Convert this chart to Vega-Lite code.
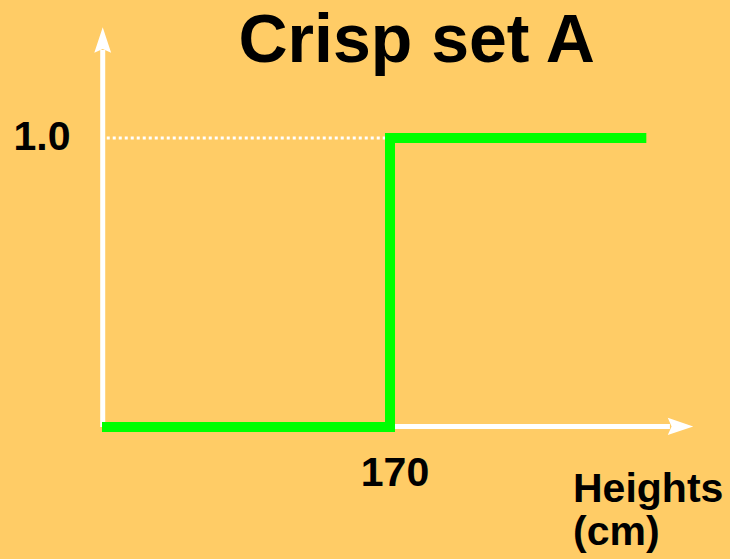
{
  "$schema": "https://vega.github.io/schema/vega-lite/v6.json",
  "width": 730,
  "height": 559,
  "autosize": {"type": "none"},
  "padding": 0,
  "background": "#FFCC66",
  "config": {"view": {"stroke": null}},
  "resolve": {"scale": {"x": "shared", "y": "shared"}},
  "encoding": {
    "x": {"type": "quantitative", "scale": {"domain": [142.9167, 193.6111], "nice": false, "zero": false}, "axis": null},
    "y": {"type": "quantitative", "scale": {"domain": [-0.45675, 1.47751], "nice": false, "zero": false}, "axis": null}
  },
  "layer": [
    {
      "data": {"values": [{"h": 150.33, "h2": 170, "m": 1}]},
      "mark": {"type": "rule", "color": "white", "strokeWidth": 3, "strokeDash": [3, 3]},
      "encoding": {"x": {"field": "h"}, "x2": {"field": "h2"}, "y": {"field": "m"}}
    },
    {
      "data": {"values": [
        {"h": 150.05, "h2": 150.05, "m": 0, "m2": 1.3045},
        {"h": 150, "h2": 189.44, "m": 0.002, "m2": 0.002}
      ]},
      "mark": {"type": "rule", "color": "white", "strokeWidth": 5},
      "encoding": {"x": {"field": "h"}, "x2": {"field": "h2"}, "y": {"field": "m"}, "y2": {"field": "m2"}}
    },
    {
      "data": {"values": [
        {"dir": "up", "h": 150.05, "m": 1.339},
        {"dir": "right", "h": 190.174, "m": 0.002}
      ]},
      "mark": {"type": "point", "filled": true, "color": "white", "opacity": 1, "size": 650},
      "encoding": {
        "x": {"field": "h"},
        "y": {"field": "m"},
        "shape": {"field": "dir", "type": "nominal", "legend": null,
          "scale": {"domain": ["up", "right"], "range": ["M0,-1L0.66,1L0,0.7L-0.66,1Z", "M1,0L-1,0.68L-0.7,0L-1,-0.68Z"]}}
      }
    },
    {
      "data": {"values": [
        {"i": 1, "h": 150, "m": 0},
        {"i": 2, "h": 170, "m": 0},
        {"i": 3, "h": 170, "m": 1},
        {"i": 4, "h": 187.8, "m": 1}
      ]},
      "mark": {"type": "line", "color": "#00FF00", "strokeWidth": 10, "strokeCap": "butt", "strokeJoin": "miter"},
      "encoding": {"x": {"field": "h"}, "y": {"field": "m"}, "order": {"field": "i", "type": "quantitative"}}
    },
    {
      "data": {"values": [{"label": "Crisp set A", "h": 171.854, "m": 1.263}]},
      "mark": {"type": "text", "font": "Liberation Sans", "fontWeight": "bold", "fontSize": 68, "align": "center", "baseline": "alphabetic", "color": "black"},
      "encoding": {"x": {"field": "h"}, "y": {"field": "m"}, "text": {"field": "label"}}
    },
    {
      "data": {"values": [
        {"label": "1.0", "h": 145.833, "m": 0.9585},
        {"label": "170", "h": 170.347, "m": -0.2042}
      ]},
      "mark": {"type": "text", "font": "Liberation Sans", "fontWeight": "bold", "fontSize": 41, "align": "center", "baseline": "alphabetic", "color": "black"},
      "encoding": {"x": {"field": "h"}, "y": {"field": "m"}, "text": {"field": "label"}}
    },
    {
      "data": {"values": [
        {"label": "Heights", "h": 182.708, "m": -0.2595},
        {"label": "(cm)", "h": 182.708, "m": -0.4083}
      ]},
      "mark": {"type": "text", "font": "Liberation Sans", "fontWeight": "bold", "fontSize": 41, "align": "left", "baseline": "alphabetic", "color": "black"},
      "encoding": {"x": {"field": "h"}, "y": {"field": "m"}, "text": {"field": "label"}}
    }
  ]
}
